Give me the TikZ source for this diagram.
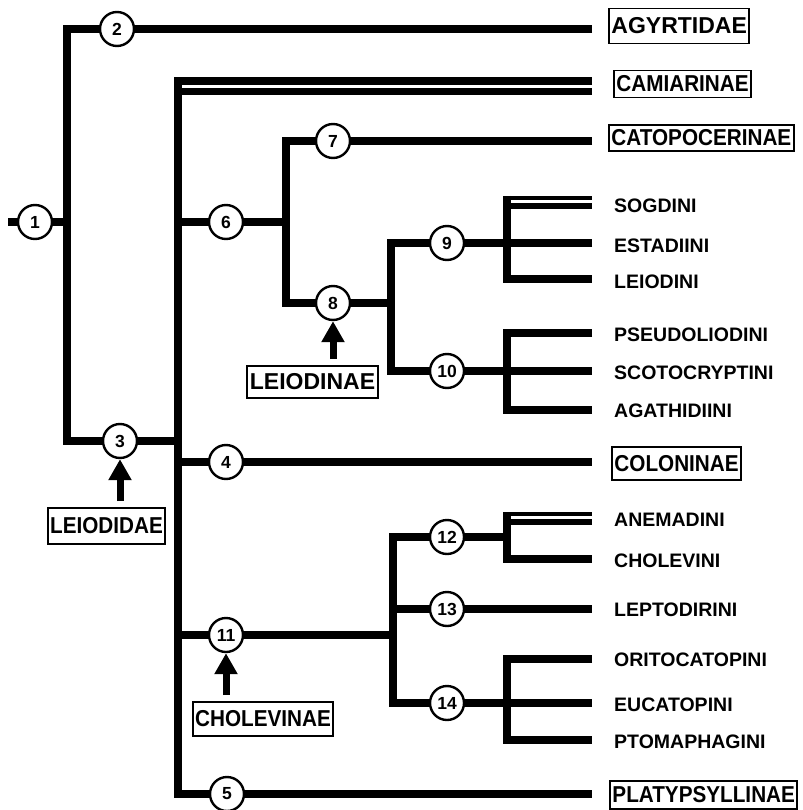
\documentclass[tikz,border=0pt]{standalone}
\usepackage{fontspec}
\setmainfont{Liberation Sans}
\newfontfamily\boxfont[FakeStretch=0.9]{Liberation Sans}
\usepackage{tikz}
\usetikzlibrary{arrows.meta,positioning,calc}
\tikzset{
  numvertex/.style={circle,draw,fill=white,line width=2.4pt,minimum size=34pt,
    inner sep=0pt,font=\fontsize{17.5}{17.5}\selectfont\bfseries},
  branch/.style={line width=7.5pt},
  uparrow/.style={-{Triangle[length=21pt,width=22pt]},line width=7pt,shorten <=6pt}
}

\begin{document}
\begin{tikzpicture}[
  x=1pt,
  y=-1pt,
  taxon/.style={
    anchor=west,
    inner sep=0pt,
    font=\fontsize{19.5}{20}\selectfont\bfseries
  },
  cladebox/.style={
    draw,
    line width=1.9pt,
    inner xsep=2.5pt,
    inner ysep=0pt,
    minimum height=32pt,
    font=\boxfont\fontsize{23}{23}\selectfont\bfseries
  },
  widebox/.style={
    cladebox,
    font=\fontsize{23}{23}\selectfont\bfseries
  }
]
  \useasboundingbox (0,0) rectangle (802,810);

  % --------------------------------------------------------------
  % Corners and free ends of the tree.
  % --------------------------------------------------------------
  \coordinate (s0)    at (8,222);
  \coordinate (j1)    at (67,222);
  \coordinate (c2)    at (67,29);
  \coordinate (e2)    at (592,29);
  \coordinate (c3)    at (67,441);
  \coordinate (j3)    at (178,441);

  \coordinate (eCamA) at (592,81);
  \coordinate (mTop)  at (178,81);
  \coordinate (mBot)  at (178,794);
  \coordinate (e5)    at (592,794);
  \coordinate (mCam)  at (178,91.5);
  \coordinate (eCamB) at (592,91.5);

  \coordinate (j6a)   at (178,222);
  \coordinate (j6)    at (286,222);
  \coordinate (e7)    at (592,141);
  \coordinate (c7)    at (286,141);
  \coordinate (c8)    at (286,303);
  \coordinate (j8)    at (391,303);
  \coordinate (c9)    at (391,243);
  \coordinate (c10)   at (391,371);
  \coordinate (eEst)  at (592,243);
  \coordinate (eSco)  at (592,371);

  \coordinate (cSogA) at (503.25,198);
  \coordinate (eSogA) at (592,198);
  \coordinate (tSog)  at (507,196);
  \coordinate (cSogB) at (507,206);
  \coordinate (eSogB) at (592,206);
  \coordinate (cLei)  at (507,279);
  \coordinate (eLei)  at (592,279);

  \coordinate (ePse)  at (592,333);
  \coordinate (cPse)  at (507,333);
  \coordinate (cAga)  at (507,410);
  \coordinate (eAga)  at (592,410);

  \coordinate (j4)    at (178,462);
  \coordinate (e4)    at (592,462);

  \coordinate (j11)   at (178,635);
  \coordinate (k11)   at (393,635);
  \coordinate (j12)   at (507,537);
  \coordinate (c12)   at (393,537);
  \coordinate (c13)   at (393,609);
  \coordinate (eLep)  at (592,609);
  \coordinate (c14)   at (393,703);
  \coordinate (eEuc)  at (592,703);

  \coordinate (cAneA) at (503.25,514);
  \coordinate (eAneA) at (592,514);
  \coordinate (tAne)  at (507,512);
  \coordinate (cAneB) at (507,522);
  \coordinate (eAneB) at (592,522);
  \coordinate (cCho)  at (507,559);
  \coordinate (eCho)  at (592,559);

  \coordinate (eOri)  at (592,659);
  \coordinate (cOri)  at (507,659);
  \coordinate (cPto)  at (507,740);
  \coordinate (ePto)  at (592,740);


  % --------------------------------------------------------------
  % Branches.
  % --------------------------------------------------------------
  \draw[branch] (s0) -- (j1);
  \draw[branch] (e2) -- (c2) -- (c3) -- (j3);

  % Leiodidae stem
  \draw[branch] (eCamA) -- (mTop) -- (mBot) -- (e5);
  \draw[line width=7pt] (mCam) -- (eCamB);
  \draw[branch] (j4) -- (e4);

  % Catopocerinae + Leiodinae
  \draw[branch] (j6a) -- (j6);
  \draw[branch] (e7) -- (c7) -- (c8) -- (j8);
  \draw[branch] (eEst) -- (c9) -- (c10) -- (eSco);

  \draw[line width=4pt] (cSogA) -- (eSogA);
  \draw[branch] (tSog) -- (cLei) -- (eLei);
  \draw[line width=6pt] (cSogB) -- (eSogB);
  \draw[branch] (ePse) -- (cPse) -- (cAga) -- (eAga);

  % Cholevinae
  \draw[branch] (j11) -- (k11);
  \draw[branch] (j12) -- (c12) -- (c14) -- (eEuc);
  \draw[branch] (c13) -- (eLep);

  \draw[line width=4pt] (cAneA) -- (eAneA);
  \draw[branch] (tAne) -- (cCho) -- (eCho);
  \draw[line width=6pt] (cAneB) -- (eAneB);
  \draw[branch] (eOri) -- (cOri) -- (cPto) -- (ePto);


  % --------------------------------------------------------------
  % Numbered nodes.
  % --------------------------------------------------------------
  \foreach \k/\x/\y in {1/35/222, 2/117/29, 3/120/441, 4/226/462,
      5/227/794, 6/226/222, 7/333/141, 8/333/303, 9/447/243,
      10/447/371, 11/226/635, 12/447/537, 13/447/609, 14/447/703}
    {\node[numvertex] (n\k) at (\x,\y) {\k};}


  % --------------------------------------------------------------
  % Terminal taxa.
  % --------------------------------------------------------------
  \node[widebox,anchor=west,minimum height=35pt] (tAgyrtidae) at (608,26) {AGYRTIDAE};
  \node[cladebox,anchor=west,minimum height=27pt] (tCamiarinae) at (613,84) {CAMIARINAE};
  \node[cladebox,anchor=west,minimum height=26pt] (tCatopocerinae) at (608,138) {CATOPOCERINAE};
  \node[cladebox,anchor=west,minimum height=33pt] (tColoninae) at (611,463.5) {COLONINAE};
  \node[cladebox,anchor=west,minimum height=28pt] (tPlatypsyllinae) at (609,795) {PLATYPSYLLINAE};

  \node[taxon] (tSogdini)        at (614,206) {SOGDINI};
  \node[taxon] (tEstadiini)      at (614,246) {ESTADIINI};
  \node[taxon] (tLeiodini)       at (614,282) {LEIODINI};
  \node[taxon] (tPseudoliodini)  at (614,335) {PSEUDOLIODINI};
  \node[taxon] (tScotocryptini)  at (614,373) {SCOTOCRYPTINI};
  \node[taxon] (tAgathidiini)    at (614,411) {AGATHIDIINI};
  \node[taxon] (tAnemadini)      at (614,520) {ANEMADINI};
  \node[taxon] (tCholevini)      at (614,561) {CHOLEVINI};
  \node[taxon] (tLeptodirini)    at (614,610) {LEPTODIRINI};
  \node[taxon] (tOritocatopini)  at (614,660) {ORITOCATOPINI};
  \node[taxon] (tEucatopini)     at (614,705) {EUCATOPINI};
  \node[taxon] (tPtomaphagini)   at (614,742) {PTOMAPHAGINI};


  % --------------------------------------------------------------
  % Named clades, with arrows up to their nodes.
  % --------------------------------------------------------------
  \node[cladebox,minimum height=36pt] (tLeiodidae)  at (106.5,526) {LEIODIDAE};
  \node[widebox] (tLeiodinae)  at (312.5,382) {LEIODINAE};
  \node[cladebox,minimum height=34pt] (tCholevinae) at (263,719) {CHOLEVINAE};

  \draw[uparrow] (tLeiodidae.north -| n3) -- (n3.south);
  \draw[uparrow] (tLeiodinae.north -| n8) -- (n8.south);
  \draw[uparrow] (tCholevinae.north -| n11) -- (n11.south);

\end{tikzpicture}
\end{document}
